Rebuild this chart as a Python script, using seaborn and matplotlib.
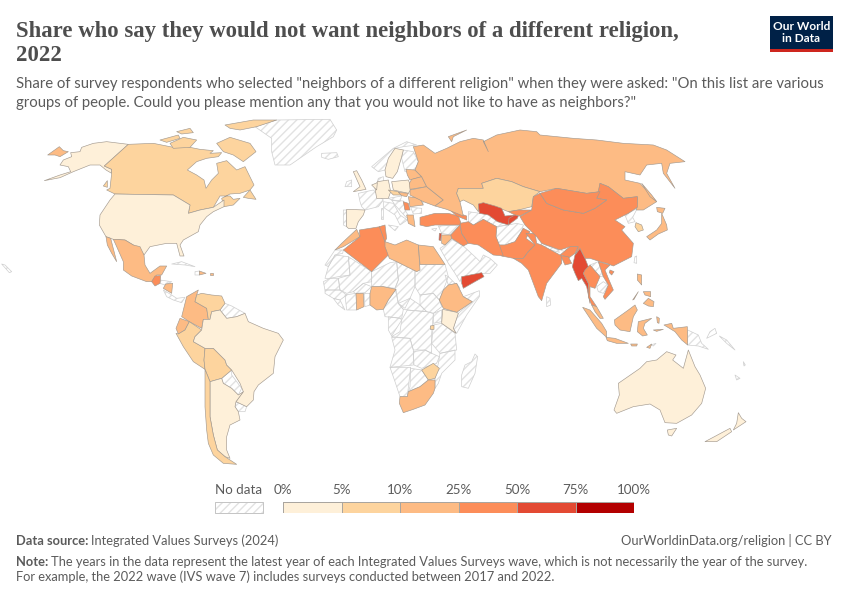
import numpy as np
import matplotlib
matplotlib.use("Agg")
import matplotlib.pyplot as plt
from matplotlib.collections import PolyCollection
from matplotlib.colors import BoundaryNorm, ListedColormap
import seaborn as sns

sns.set_theme(style="white")
plt.rcParams['font.family'] = ['Lato', 'DejaVu Sans']
plt.rcParams['hatch.linewidth'] = 1.0

TITLE = "Share who say they would not want neighbors of a different religion,\n2022"
SUB = ('Share of survey respondents who selected "neighbors of a different religion" when they were asked: "On this list are various\n'
       'groups of people. Could you please mention any that you would not like to have as neighbors?"')
BIN_EDGES = [0, 5, 10, 25, 50, 75, 100]
BIN_LABELS = ["0%", "5%", "10%", "25%", "50%", "75%", "100%"]
PALETTE = ["#fef0d9", "#fdd49e", "#fdbb84", "#fc8d59", "#e34a33", "#b30000"]

# Approximate share per country, read off the legend bins (missing = no data)
VALUES = {
 "Russia": 15, "Chukotka": 15, "Sakhalin": 15, "NovayaZ": 15, "Alaska": 3, "USA": 3, "Hawaii": None,
 "Canada": 8, "Baffin": 8, "Ellesmere": 8, "Victoria": 8, "Banks": 8, "Devon": 8, "Newfoundland": 8, "Vancouver": 8,
 "Mexico": 15, "Baja": 15, "Guatemala": 40, "Nicaragua": 15, "DomRep": 12, "PuertoRico": 15,
 "Colombia": 20, "Venezuela": 9, "Ecuador": 22, "Peru": 9, "Bolivia": 9, "Brazil": 3, "Argentina": 3, "Chile": 8,
 "Spain": 3, "UK": 3, "Germany": 3, "Poland": 3, "Netherlands": 3, "Sweden": 3, "Czechia": 8, "Slovakia": 12,
 "Serbia": 40, "Romania": 12, "Greece": 15, "Ukraine": 15, "Belarus": 15, "Baltics": 15,
 "Morocco": 15, "Algeria": 35, "Tunisia": 35, "Libya": 15, "Egypt": 15, "Nigeria": 15, "Ghana": 15,
 "Ethiopia": 15, "Kenya": 3, "Rwanda": 8, "Zimbabwe": 9, "SouthAfrica": 15,
 "Turkey": 35, "Caucasus": 35, "Iraq": 35, "Iran": 35, "Jordan": 15, "Lebanon": 60, "Yemen": 60,
 "Kazakhstan": 8, "Uzbekistan": 60, "Kyrgyzstan": 30, "Tajikistan": 60, "Pakistan": 35, "India": 35,
 "Bangladesh": 35, "Myanmar": 60, "China": 35, "Mongolia": 35, "SKorea": 9, "Japan": 15, "Hokkaido": 15,
 "Vietnam": 35, "Thailand": 35, "Hainan": 35, "MalaysiaP": 12,
 "Sumatra": 15, "Java": 15, "Borneo": 15, "Sulawesi": 15, "Moluccas": 15, "PapuaIndo": 15, "Sunda1": 15, "Sunda2": 15,
 "Seram": 15, "Luzon": 15, "Mindanao": 15, "Visayas": 15, "Palawan": 15,
 "Australia": 3, "Tasmania": 3, "NZSouth": 3, "NZNorth": 3,
}

# Outlines, each list in the units of a 3x crop; CROPS gives the crop's origin on the canvas
CROPS = {"am": (0, 110), "sa": (130, 280), "eu": (320, 130), "af": (320, 250), "as": (440, 130), "oc": (560, 260)}

OUTLINES = {
 "am": {
  "Greenland": [(765,50),(830,30),(990,28),(1010,60),(1000,80),(950,110),(870,165),(825,165),(815,125),(815,85)],
  "Iceland": [(965,130),(1010,128),(1015,140),(985,148),(965,142)],
  "Chukotka": [(143,135),(178,110),(190,122),(205,125),(180,140),(165,135)],
  "Alaska": [(385,103),(320,95),(280,100),(245,112),(240,125),(212,128),(215,140),(190,150),(180,165),(205,170),(212,185),(180,195),(133,212),(180,203),(220,185),(270,165),(300,165),(318,180),(335,190),(335,178),(313,168)],
  "Canada": [(385,103),(460,100),(520,112),(560,110),(600,118),(640,122),(630,130),(665,128),(655,140),(620,145),(590,155),(562,180),(590,195),(612,210),(618,235),(635,210),(655,190),(650,160),(680,152),(710,180),(735,170),(762,225),(750,240),(720,250),(690,252),(665,265),(672,290),(700,285),(720,265),(700,268),(690,258),(660,258),(640,292),(600,300),(565,310),(570,285),(520,255),(345,252),(320,240),(330,235),(335,190),(335,178),(313,168)],
  "Baffin": [(650,100),(690,82),(750,100),(768,125),(730,155),(700,135),(670,125)],
  "Ellesmere": [(675,45),(760,30),(830,30),(770,50),(720,60),(690,55)],
  "Victoria": [(510,100),(550,82),(590,90),(570,112),(520,115)],
  "Banks": [(480,90),(535,75),(540,85),(500,97)],
  "Devon": [(530,65),(570,55),(580,68),(545,72)],
  "Newfoundland": [(730,262),(750,240),(768,268),(745,265)],
  "Vancouver": [(310,228),(322,212),(322,232)],
  "USA": [(345,252),(520,255),(570,285),(565,310),(600,300),(640,292),(672,270),(672,290),(640,305),(620,320),(600,345),(595,365),(550,390),(540,405),(552,438),(540,438),(530,400),(500,400),(450,410),(432,435),(420,420),(400,405),(375,390),(340,388),(318,380),(298,345),(300,315),(330,270)],
  "Baja": [(318,380),(332,385),(350,455),(335,430),(322,405)],
  "Mexico": [(340,388),(375,390),(400,405),(420,410),(432,435),(435,465),(450,490),(480,468),(500,468),(485,495),(470,495),(455,515),(440,515),(395,498),(370,480),(370,455),(350,410)],
  "Guatemala": [(455,515),(465,498),(482,497),(480,520),(465,528)],
  "Honduras": [(480,520),(480,510),(515,515),(495,525)],
  "Nicaragua": [(497,522),(518,520),(515,550),(490,535)],
  "Panama": [(490,540),(515,555),(530,565),(555,562),(545,578),(520,570),(500,560)],
  "Cuba": [(515,462),(545,455),(585,470),(555,465)],
  "Haiti": [(585,485),(598,483),(598,495),(585,495)],
  "DomRep": [(598,483),(618,490),(598,495)],
  "PuertoRico": [(630,490),(640,490),(640,496),(630,496)],
  "Hawaii": [(5,462),(15,465),(35,485),(28,488)],
 },
 "sa": {
  "Colombia": [(205,30),(170,50),(155,110),(178,125),(215,145),(220,118),(235,118),(230,85),(195,65),(200,45)],
  "Venezuela": [(200,45),(215,40),(245,45),(275,48),(285,70),(270,90),(245,95),(240,118),(235,118),(230,85),(195,65)],
  "Guianas": [(285,70),(305,78),(345,100),(320,110),(290,115),(270,90)],
  "Ecuador": [(150,115),(178,125),(165,150),(145,162),(138,145)],
  "Peru": [(138,160),(145,162),(165,150),(178,125),(215,150),(195,170),(190,185),(225,205),(222,240),(225,268),(190,245),(160,200)],
  "Bolivia": [(225,205),(250,205),(285,240),(290,255),(305,270),(275,295),(240,305),(225,268),(222,240)],
  "Brazil": [(220,118),(240,118),(245,95),(270,90),(290,115),(320,110),(345,100),(355,125),(400,145),(445,160),(460,180),(435,230),(430,280),(385,315),(372,335),(370,360),(350,380),(318,365),(340,335),(330,310),(305,270),(290,255),(285,240),(250,205),(225,205),(190,185),(195,170),(215,150)],
  "Paraguay": [(275,295),(305,270),(305,285),(335,325),(325,345),(305,325),(280,310)],
  "Uruguay": [(318,365),(350,380),(345,395),(325,395),(315,380)],
  "Argentina": [(240,305),(275,295),(280,310),(305,325),(325,345),(340,335),(318,365),(315,380),(325,395),(330,420),(300,435),(290,470),(290,510),(300,535),(285,530),(262,510),(250,465),(240,410),(240,360)],
  "Chile": [(225,268),(240,305),(240,360),(240,410),(250,465),(262,510),(285,530),(320,553),(280,550),(250,525),(235,490),(230,450),(225,380)],
 },
 "eu": {
  "Portugal": [(70,240),(80,240),(80,290),(70,285)],
  "Spain": [(80,238),(135,240),(130,255),(115,275),(108,295),(85,295),(80,290)],
  "France": [(115,190),(160,180),(190,210),(175,230),(135,240),(125,230),(120,215)],
  "UK": [(100,125),(110,122),(125,150),(138,178),(100,185),(120,170)],
  "Ireland": [(80,155),(95,150),(95,170),(75,170)],
  "Germany": [(172,155),(205,150),(212,185),(205,205),(170,205),(165,175)],
  "Poland": [(215,155),(265,150),(275,175),(265,190),(220,180)],
  "Netherlands": [(155,165),(172,158),(170,180)],
  "Czechia": [(205,180),(235,185),(245,195),(220,195)],
  "Slovakia": [(235,187),(265,190),(260,200),(245,197)],
  "Austria": [(205,205),(245,198),(240,215),(215,210)],
  "Balkans": [(215,210),(250,213),(255,240),(272,268),(258,262),(225,225)],
  "Serbia": [(250,215),(265,220),(270,240),(255,240)],
  "Romania": [(265,200),(300,205),(310,225),(270,230)],
  "Bulgaria": [(272,232),(305,235),(305,250),(280,252)],
  "Greece": [(260,255),(280,255),(285,290),(265,280)],
  "Italy": [(190,215),(220,220),(240,255),(262,270),(240,285),(225,255),(190,232)],
  "Sardinia": [(182,235),(188,235),(188,268),(182,268)],
  "Sicily": [(205,285),(235,290),(225,302)],
  "Sweden": [(195,120),(205,85),(225,55),(250,60),(245,80),(232,125),(218,145),(198,140)],
  "Norway": [(155,110),(220,55),(260,35),(290,45),(250,50),(225,55),(195,120),(175,125)],
  "Finland": [(250,60),(280,65),(295,95),(285,120),(255,125),(245,85)],
  "Denmark": [(175,145),(190,140),(190,155),(172,155)],
  "Baltics": [(258,118),(285,120),(305,140),(270,150),(262,135)],
  "Belarus": [(275,148),(305,140),(320,170),(270,178),(268,160)],
  "Ukraine": [(270,180),(320,170),(345,190),(370,210),(345,228),(310,215),(270,195)],
  "Moldova": [(300,195),(310,215),(308,225),(300,205)],
  "Turkey": [(300,262),(345,250),(385,250),(415,258),(425,285),(390,285),(345,285),(320,290),(300,285)],
  "Caucasus": [(385,235),(415,250),(440,258),(440,270),(410,258)],
  "Syria": [(355,288),(420,285),(392,315),(365,310)],
  "Cyprus": [(335,297),(350,295),(345,303)],
  "Iraq": [(392,315),(420,285),(425,310),(445,340),(430,348),(395,325)],
  "Jordan": [(365,315),(392,315),(395,325),(375,345),(365,340)],
  "Lebanon": [(358,310),(364,310),(362,332),(357,330)],
  "Arabia": [(360,355),(375,345),(395,328),(430,348),(470,385),(480,395),(490,375),(510,385),(532,405),(510,430),(490,430),(425,440),(420,455),(405,430),(385,400)],
  "Yemen": [(425,440),(450,435),(485,428),(492,440),(465,455),(430,475),(425,460)],
  "Morocco": [(65,340),(110,298),(120,320),(70,350),(45,360)],
  "Algeria": [(118,300),(180,290),(195,335),(210,370),(155,425),(70,360),(120,320)],
  "Tunisia": [(178,290),(195,285),(200,325),(195,335)],
  "Libya": [(195,335),(225,345),(260,330),(295,345),(300,420),(290,425),(230,395),(208,385),(195,350)],
  "Egypt": [(295,345),(340,350),(375,403),(300,403)],
 },
 "af": {
  "WSahara": [(15,45),(45,0),(70,0),(68,10),(45,15),(25,50)],
  "Mauritania": [(25,50),(45,15),(85,20),(90,75),(55,80),(30,85),(15,85)],
  "Mali": [(85,20),(155,65),(155,95),(130,100),(100,125),(80,130),(60,120),(55,85),(90,75)],
  "Niger": [(155,65),(210,38),(230,35),(235,90),(225,115),(190,110),(155,110),(155,95)],
  "Chad": [(230,35),(285,60),(285,110),(270,145),(255,175),(235,160),(225,115),(235,90)],
  "Sudan": [(285,60),(300,43),(375,43),(385,80),(370,120),(358,150),(340,130),(300,135),(285,110)],
  "SSudan": [(300,135),(340,130),(358,150),(365,170),(340,190),(320,185),(300,165)],
  "Ethiopia": [(385,105),(410,100),(430,140),(457,155),(410,187),(370,175),(358,150),(370,120)],
  "Eritrea": [(375,75),(385,80),(420,115),(410,100),(385,105)],
  "Somalia": [(430,140),(478,122),(478,140),(440,195),(410,250),(400,235),(415,190),(457,155)],
  "Kenya": [(368,178),(410,187),(415,190),(400,235),(408,250),(365,220)],
  "Uganda": [(340,190),(365,180),(365,215),(340,220)],
  "Rwanda": [(331,228),(342,226),(342,238),(331,238)],
  "Tanzania": [(340,225),(365,220),(405,250),(410,300),(360,310),(335,280)],
  "DRC": [(262,180),(320,185),(340,190),(335,250),(335,310),(315,300),(280,300),(270,265),(215,260),(240,245),(245,210)],
  "Congo": [(205,200),(240,205),(245,210),(215,258),(205,240)],
  "Cameroon": [(228,118),(235,160),(250,178),(245,205),(195,200),(190,178),(205,150)],
  "CAR": [(235,160),(270,145),(300,165),(320,185),(262,180),(250,178)],
  "Nigeria": [(155,110),(190,110),(228,118),(205,150),(190,178),(170,180),(150,165),(150,130)],
  "Ghana": [(108,130),(130,130),(132,170),(110,180)],
  "Togo": [(132,130),(150,130),(150,165),(135,170)],
  "Burkina": [(100,125),(130,100),(155,110),(135,128),(105,130)],
  "IvoryCoast": [(75,135),(108,130),(110,180),(80,180)],
  "Guinea": [(15,120),(60,120),(80,135),(60,150),(40,145),(15,130)],
  "Senegal": [(10,95),(30,85),(55,85),(60,120),(15,120)],
  "Liberia": [(40,145),(60,150),(75,180),(55,165)],
  "Angola": [(215,262),(270,265),(280,300),(280,345),(210,352),(225,300)],
  "Zambia": [(280,305),(315,300),(335,310),(358,320),(350,340),(305,355),(282,345)],
  "Mozambique": [(360,310),(405,300),(405,330),(365,370),(355,400),(345,415),(345,385),(355,340)],
  "Zimbabwe": [(305,360),(340,340),(358,355),(345,385),(325,390)],
  "Botswana": [(272,355),(305,360),(325,390),(300,410),(265,425),(270,410)],
  "Namibia": [(210,352),(272,352),(265,412),(262,440),(240,440),(225,395)],
  "SouthAfrica": [(265,425),(300,410),(325,390),(345,390),(345,415),(340,430),(315,465),(280,478),(250,488),(238,460),(240,440),(262,440)],
  "Lesotho": [(310,445),(325,440),(320,455),(312,455)],
  "Madagascar": [(465,312),(473,320),(465,370),(445,415),(425,410),(425,375),(435,345),(455,335)],
 },
 "as": {
  "Russia": [(-80,50),(-65,95),(-75,120),(-55,140),(-40,170),(-15,190),(10,210),(-15,228),(20,238),(70,258),(60,215),(50,190),(55,175),(130,175),(125,160),(170,145),(215,155),(250,170),(300,185),(350,175),(440,190),(480,185),(480,160),(505,170),(550,205),(592,200),(590,240),(610,240),(650,215),(600,160),(555,150),(555,125),(600,135),(620,105),(665,100),(670,130),(705,175),(680,130),(690,100),(735,95),(680,60),(640,45),(550,40),(470,30),(400,25),(300,15),(290,5),(240,0),(170,15),(130,35),(145,65),(130,30),(100,25),(60,35),(20,55),(-15,70),(-50,45)],
  "NovayaZ": [(25,20),(80,0),(40,20),(35,35)],
  "Sakhalin": [(605,160),(635,195),(650,215),(630,200)],
  "Kazakhstan": [(55,175),(130,175),(125,160),(170,145),(215,155),(250,170),(300,185),(280,200),(275,230),(235,240),(205,245),(180,235),(165,235),(120,222),(115,245),(100,225),(70,210),(60,215),(50,190)],
  "Turkmenistan": [(85,245),(120,250),(150,245),(175,270),(205,285),(170,290),(130,268),(100,285),(85,275)],
  "Uzbekistan": [(115,222),(130,218),(165,228),(185,235),(195,258),(225,255),(205,285),(172,275),(145,255),(118,250)],
  "Kyrgyzstan": [(205,245),(235,240),(275,240),(240,258),(225,255)],
  "Tajikistan": [(207,265),(225,255),(235,258),(232,265),(205,285)],
  "Afghanistan": [(170,290),(205,285),(230,280),(250,285),(245,305),(225,335),(195,345),(178,345),(168,320)],
  "Pakistan": [(250,295),(270,305),(258,325),(285,345),(265,365),(250,385),(220,385),(185,378),(178,345),(195,345),(225,335)],
  "India": [(258,310),(285,310),(290,340),(305,345),(360,375),(390,350),(415,350),(405,370),(385,385),(365,375),(365,400),(320,460),(305,512),(295,500),(265,420),(245,400),(220,385),(250,385),(265,365),(285,345)],
  "Nepal": [(305,340),(355,360),(358,367),(305,352)],
  "Bhutan": [(365,355),(385,358),(383,366),(365,362)],
  "Bangladesh": [(362,377),(385,380),(395,400),(375,405)],
  "SriLanka": [(320,500),(330,505),(332,525),(320,530)],
  "Myanmar": [(405,375),(420,355),(435,385),(445,410),(430,430),(445,460),(450,520),(440,470),(425,445),(415,452),(405,430),(397,410)],
  "China": [(240,260),(275,240),(280,200),(300,190),(320,220),(370,240),(430,250),(465,235),(500,210),(470,205),(480,160),(505,170),(550,205),(592,200),(592,232),(565,250),(555,255),(525,270),(555,290),(545,300),(580,340),(575,380),(520,408),(500,400),(480,395),(450,385),(435,385),(420,355),(405,375),(415,350),(390,350),(360,360),(305,340),(290,320),(255,285)],
  "Mongolia": [(300,190),(350,175),(440,190),(480,185),(470,205),(500,210),(465,235),(430,250),(370,240),(320,220)],
  "NKorea": [(555,255),(592,235),(578,262),(585,275),(565,280)],
  "SKorea": [(588,278),(605,285),(610,300),(595,305),(585,290)],
  "Japan": [(665,250),(680,285),(682,300),(655,312),(630,330),(620,320),(650,300),(665,280)],
  "Hokkaido": [(650,232),(675,235),(668,250),(652,245)],
  "Taiwan": [(585,380),(590,378),(590,400),(582,398)],
  "Laos": [(450,405),(475,395),(490,440),(480,440)],
  "Cambodia": [(470,470),(490,455),(505,465),(490,490),(475,485)],
  "Vietnam": [(475,395),(510,405),(495,420),(505,445),(520,480),(495,508),(490,500),(505,465),(490,440)],
  "Thailand": [(435,420),(450,405),(480,440),(465,475),(450,470),(450,500),(470,530),(455,525),(445,500),(445,460),(430,430)],
  "MalaysiaP": [(455,525),(470,530),(490,565),(480,565),(465,545)],
  "Hainan": [(510,420),(522,425),(515,435),(508,428)],
  "Iran": [(60,280),(85,275),(100,285),(130,268),(170,290),(168,320),(178,345),(190,378),(160,375),(115,345),(85,340),(65,310)],
 },
 "oc": {
  "Sumatra": [(68,142),(90,150),(125,190),(140,215),(140,232),(110,205)],
  "Java": [(138,232),(165,235),(205,250),(170,250),(142,242)],
  "Borneo": [(163,180),(205,150),(225,135),(232,150),(220,170),(210,215),(180,210),(165,195)],
  "Sulawesi": [(235,185),(275,175),(255,190),(250,205),(262,225),(248,228),(232,215)],
  "Moluccas": [(290,170),(298,175),(297,190),(292,188)],
  "PapuaIndo": [(312,195),(335,190),(340,205),(382,200),(383,255),(365,240),(345,215)],
  "PNG": [(383,210),(415,225),(425,250),(445,268),(415,258),(383,255)],
  "NewBritain": [(450,215),(465,205),(470,220),(440,235)],
  "Solomon": [(478,228),(500,240),(525,270),(500,250)],
  "Sunda1": [(212,252),(232,252),(230,258),(215,258)],
  "Sunda2": [(260,262),(275,252),(270,265)],
  "Timor": [(272,255),(288,250),(280,258)],
  "Seram": [(280,210),(310,208),(290,214)],
  "Luzon": [(232,42),(245,45),(245,75),(232,60)],
  "Mindanao": [(265,115),(282,125),(280,140),(265,138),(250,130)],
  "Visayas": [(250,95),(272,95),(272,110),(255,105)],
  "Palawan": [(218,120),(235,95),(222,118)],
  "Australia": [(175,370),(240,325),(260,305),(290,300),(320,275),(348,285),(338,300),(370,325),(385,270),(405,320),(420,345),(437,385),(425,430),(395,465),(350,490),(315,488),(300,450),(270,432),(220,440),(170,460),(162,450),(178,405)],
  "Tasmania": [(322,510),(350,505),(335,528),(325,525)],
  "NZSouth": [(435,545),(510,505),(515,515),(470,545)],
  "NZNorth": [(535,458),(545,475),(558,485),(520,510),(530,490)],
  "Fiji": [(525,345),(540,355),(530,360)],
  "NewCaledonia": [(550,305),(556,315),(552,318)],
 },
}

fig = plt.figure(figsize=(8.5, 6.0), dpi=100, facecolor="white")
ax = fig.add_axes([0, 0, 1, 1])
ax.set_xlim(0, 850)
ax.set_ylim(600, 0)
ax.axis("off")

cmap = ListedColormap(PALETTE)
norm = BoundaryNorm(BIN_EDGES, cmap.N)

known, known_vals, missing = [], [], []
for crop, shapes in OUTLINES.items():
    ox, oy = CROPS[crop]
    for name, pts in shapes.items():
        xy = np.array(pts, dtype=float) / 3 + (ox, oy)
        val = VALUES.get(name)
        if val is None:
            missing.append(xy)
        else:
            known.append(xy)
            known_vals.append(val)

ax.add_collection(PolyCollection(missing, facecolors="white", edgecolors="#e2e2e2", hatch="////", linewidths=0))
ax.add_collection(PolyCollection(missing, facecolors="none", edgecolors="#cfcfcf", linewidths=0.5))
coll = PolyCollection(known, array=np.array(known_vals), cmap=cmap, norm=norm, edgecolors="#a39a90", linewidths=0.45)
ax.add_collection(coll)

GREY = "#5b5b5b"
ax.text(16, 37, TITLE.split("\n")[0], family="Liberation Serif", fontweight="bold", fontsize=16.4, color="#4e4e4e", va="baseline")
ax.text(16, 61, TITLE.split("\n")[1], family="Liberation Serif", fontweight="bold", fontsize=16.4, color="#4e4e4e", va="baseline")
for y, line in zip((88, 107), SUB.split("\n")):
    ax.text(16, y, line, fontsize=10.7, color=GREY, va="baseline")

# Logo
ax.fill_between([770, 833], 16, 49, color="#002147", lw=0)
ax.fill_between([770, 833], 49, 52, color="#ce261e", lw=0)
ax.text(801.5, 32.5, "Our World\nin Data", color="white", fontweight="bold", fontsize=8.6, ha="center", va="center", linespacing=1.0)

# Legend
ax.text(239, 494, "No data", fontsize=9.6, color=GREY, ha="center", va="baseline")
nd = np.array([[215, 502], [263, 502], [263, 513], [215, 513]], dtype=float)
ax.add_collection(PolyCollection([nd], facecolors="white", edgecolors="#e2e2e2", hatch="////", linewidths=0))
ax.add_collection(PolyCollection([nd], facecolors="none", edgecolors="#c4c4c4", linewidths=0.7))

lax = fig.add_axes([283 / 850, 1 - 513 / 600, 351 / 850, 11 / 600])
sns.heatmap(np.arange(6).reshape(1, -1), cmap=PALETTE, cbar=False, ax=lax, linewidths=0.6,
            linecolor="#a9a59f", xticklabels=False, yticklabels=False)
lax.set_xticks(range(7))
lax.set_xticklabels(BIN_LABELS, fontsize=9.6, color=GREY)
lax.xaxis.tick_top()
lax.tick_params(axis="x", length=0, pad=4)

# Footer
ax.text(16, 545, "Data source:", fontsize=9.25, fontweight="bold", color=GREY, va="baseline")
ax.text(91, 545, "Integrated Values Surveys (2024)", fontsize=9.25, color=GREY, va="baseline")
ax.text(832, 545, "OurWorldinData.org/religion | CC BY", fontsize=9.25, color=GREY, ha="right", va="baseline")
ax.text(16, 566, "Note:", fontsize=9.25, fontweight="bold", color=GREY, va="baseline")
ax.text(51, 566, "The years in the data represent the latest year of each Integrated Values Surveys wave, which is not necessarily the year of the survey.", fontsize=9.25, color=GREY, va="baseline")
ax.text(16, 581, "For example, the 2022 wave (IVS wave 7) includes surveys conducted between 2017 and 2022.", fontsize=9.25, color=GREY, va="baseline")

fig.savefig("out.png", dpi=100)
